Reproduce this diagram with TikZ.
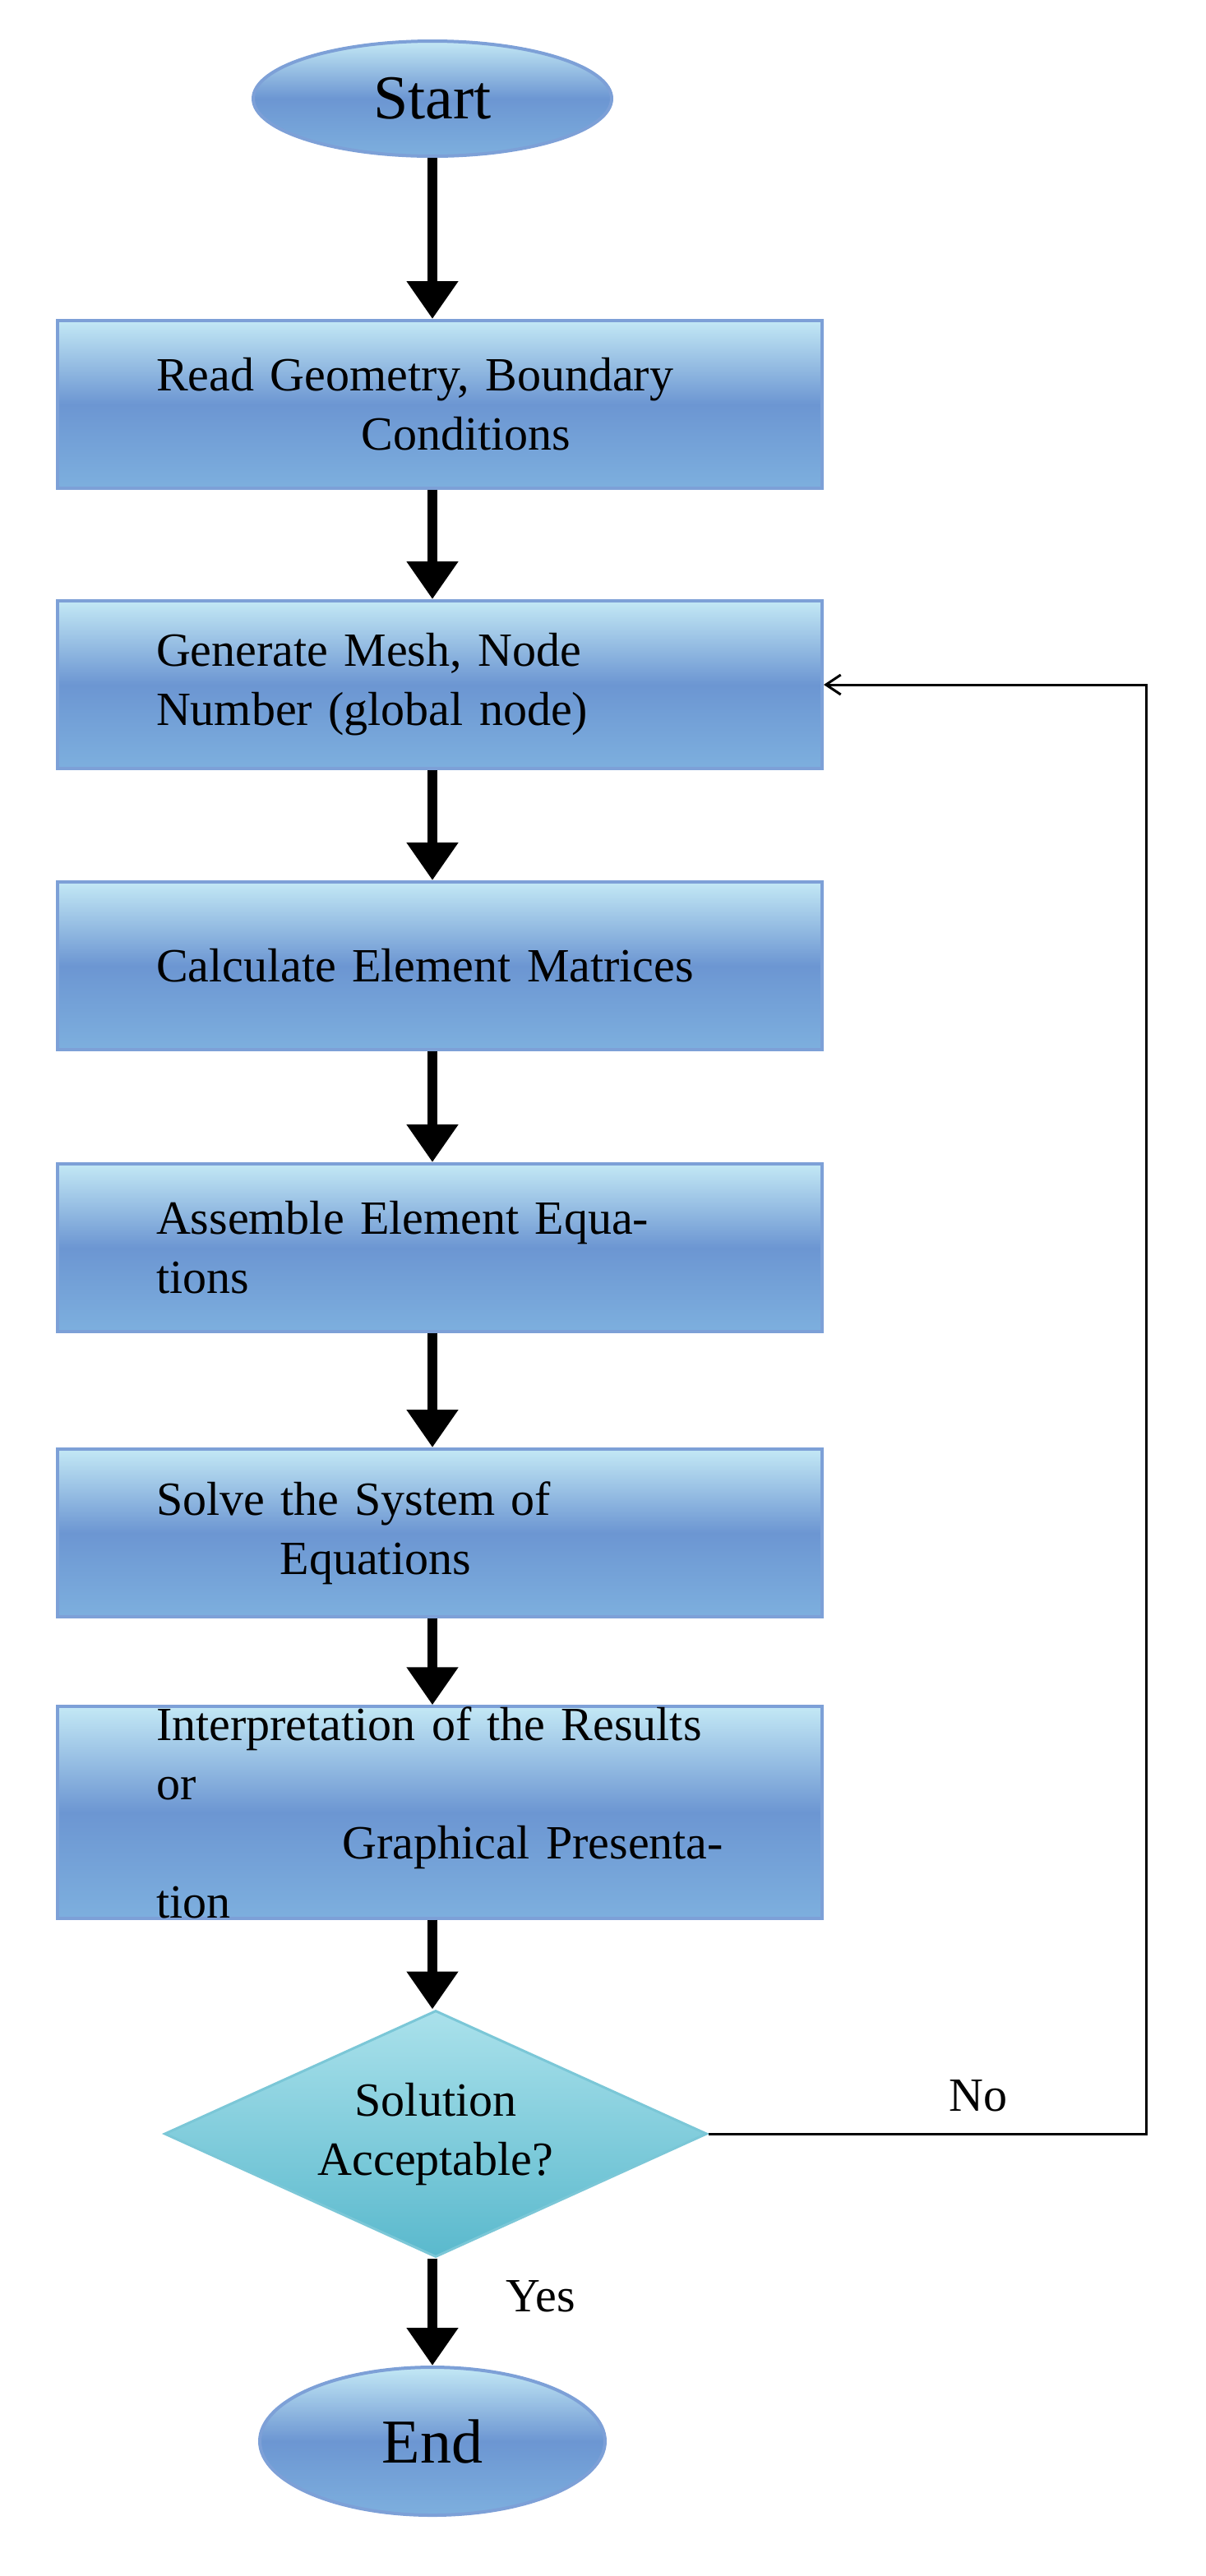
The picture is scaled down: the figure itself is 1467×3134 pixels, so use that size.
\documentclass[tikz,border=0pt]{standalone}
\usepackage{fontspec}
\setmainfont{Liberation Serif}
\usetikzlibrary{shapes.geometric,arrows.meta}
\definecolor{bordB}{RGB}{125,160,215}
\definecolor{topB}{RGB}{195,232,245}
\definecolor{midB}{RGB}{108,150,210}
\definecolor{botB}{RGB}{125,175,222}
\definecolor{topT}{RGB}{170,225,235}
\definecolor{midT}{RGB}{90,185,205}
\begin{document}
\begin{tikzpicture}[x=0.5pt,y=-0.5pt,
  box/.style={draw=bordB,line width=2pt,rectangle,minimum width=465pt,minimum height=102pt,
    top color=topB,bottom color=botB,middle color=midB,font=\fontsize{29}{36}\selectfont,inner sep=0pt,
    text width=345pt,align=left},
  oval/.style={ellipse,draw=bordB,line width=2pt,top color=topB,bottom color=botB,middle color=midB,
    font=\fontsize{38}{44}\selectfont,inner sep=0pt},
  big/.style={line width=6pt,-{Triangle[width=30pt,length=23pt]}},
  thin/.style={line width=1.5pt,-{Straight Barb[width=12pt,length=9pt]}}]
\useasboundingbox (0,0) rectangle (1467,3134);
\node[oval,minimum width=218pt,minimum height=70pt] (s) at (526,120) {Start};
\node[box] (b1) at (535,492) {Read Geometry, Boundary\\\hspace*{4.3em}Conditions};
\node[box] (b2) at (535,833) {Generate Mesh, Node\\Number (global node)};
\node[box] (b3) at (535,1175) {Calculate Element Matrices};
\node[box] (b4) at (535,1518) {Assemble Element Equations};
\node[box] (b5) at (535,1865) {Solve the System of\\\hspace*{2.6em}Equations};
\node[box] (b6) at (535,2205) {Interpretation of the Results or\\\hspace*{3.9em}Graphical Presentation};
\node[diamond,draw=midT!80!white,line width=1.5pt,top color=topT,bottom color=midT,
  minimum width=330pt,minimum height=150pt,aspect=2.2,inner sep=0pt,font=\fontsize{29}{36}\selectfont] (d) at (530,2596)
  {\begin{tabular}{@{}c@{}}Solution\\Acceptable?\end{tabular}};
\node[oval,minimum width=210pt,minimum height=90pt] (e) at (526,2970) {End};
\draw[big] (s) -- (s |- b1.north);
\draw[big] (b1.south -| s) -- (b2.north -| s);
\draw[big] (b2.south -| s) -- (b3.north -| s);
\draw[big] (b3.south -| s) -- (b4.north -| s);
\draw[big] (b4.south -| s) -- (b5.north -| s);
\draw[big] (b5.south -| s) -- (b6.north -| s);
\draw[big] (b6.south -| s) -- (d.north -| s);
\draw[big] (d.south -| s) -- (e);
\coordinate (c) at (1394,2596);
\draw[thin] (d.east) -- (c) |- (b2.east);
\node[font=\fontsize{29}{36}\selectfont] (no) at (1190,2550) {No};
\node[font=\fontsize{29}{36}\selectfont] (yes) at (658,2794) {Yes};
\end{tikzpicture}
\end{document}
